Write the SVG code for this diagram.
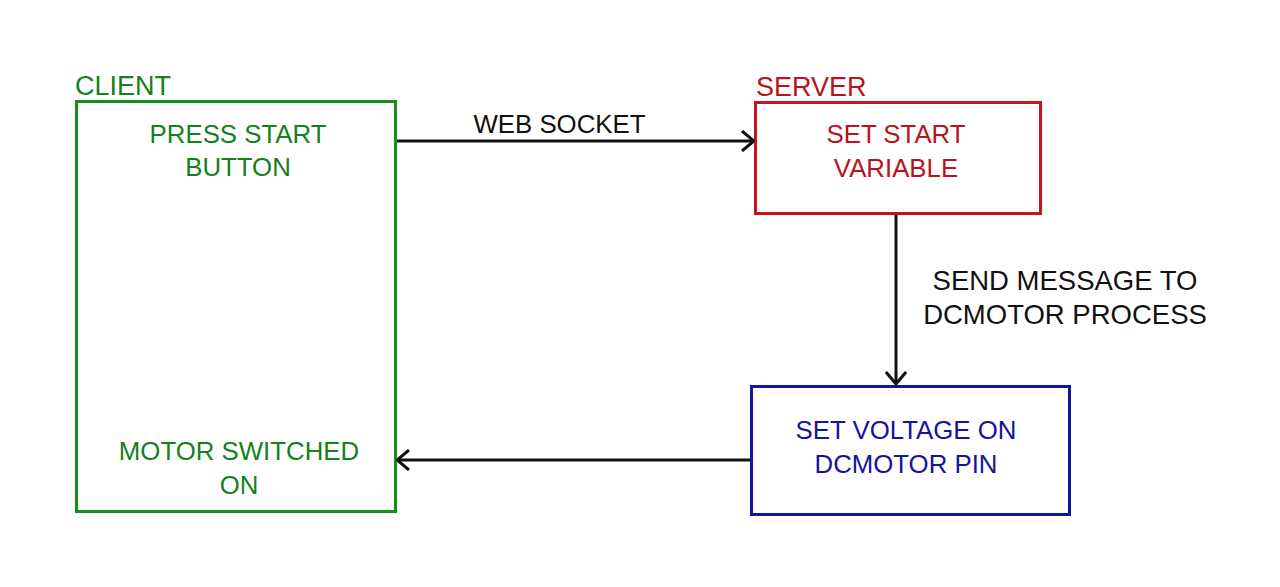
<svg xmlns="http://www.w3.org/2000/svg" width="1280" height="587" viewBox="0 0 1280 587">
<style>
text{font-family:"Liberation Sans",Arial,sans-serif;font-size:25.8px}
.g{fill:#16801c}.r{fill:#b8131c}.b{fill:#1414a0}.k{fill:#111}
.box{fill:none;stroke-width:3}
.c{stroke:#111;stroke-width:3;fill:none}
.lab{font-size:27.5px}
.hd{font-size:27px}
</style>
<defs>
<marker id="ah" viewBox="0 0 14 22" refX="13" refY="11" markerWidth="14" markerHeight="22" markerUnits="userSpaceOnUse" orient="auto">
<path d="M1,1 L13,11 L1,21" fill="none" stroke="#111" stroke-width="3"/>
</marker>
</defs>
<rect width="1280" height="587" fill="#fff"/>
<g id="client">
<text class="g hd" x="75" y="95">CLIENT</text>
<rect class="box" x="76.5" y="101.5" width="319" height="410" stroke="#16901c"/>
<text class="g" x="238" y="143" text-anchor="middle">PRESS START</text>
<text class="g" x="238" y="176" text-anchor="middle">BUTTON</text>
<text class="g" x="239" y="460" text-anchor="middle">MOTOR SWITCHED</text>
<text class="g" x="239" y="494" text-anchor="middle">ON</text>
</g>
<g id="server">
<text class="r hd" x="756" y="96">SERVER</text>
<rect class="box" x="755.5" y="102.5" width="285" height="111" stroke="#c8141c"/>
<text class="r" x="896" y="143" text-anchor="middle">SET START</text>
<text class="r" x="896" y="177" text-anchor="middle">VARIABLE</text>
</g>
<g id="dcmotor">
<rect class="box" x="751.5" y="386.5" width="318" height="128" stroke="#1414a0"/>
<text class="b" x="906" y="439" text-anchor="middle">SET VOLTAGE ON</text>
<text class="b" x="906" y="473" text-anchor="middle">DCMOTOR PIN</text>
</g>
<g id="connectors">
<line class="c" x1="397" y1="141" x2="754" y2="141" marker-end="url(#ah)"/>
<text class="k" x="559.5" y="133" text-anchor="middle" font-size="26.6">WEB SOCKET</text>
<line class="c" x1="896" y1="215" x2="896" y2="384" marker-end="url(#ah)"/>
<text class="k lab" x="1065" y="290" text-anchor="middle">SEND MESSAGE TO</text>
<text class="k lab" x="1065" y="324" text-anchor="middle">DCMOTOR PROCESS</text>
<line class="c" x1="750" y1="460" x2="397" y2="460" marker-end="url(#ah)"/>
</g>
</svg>
